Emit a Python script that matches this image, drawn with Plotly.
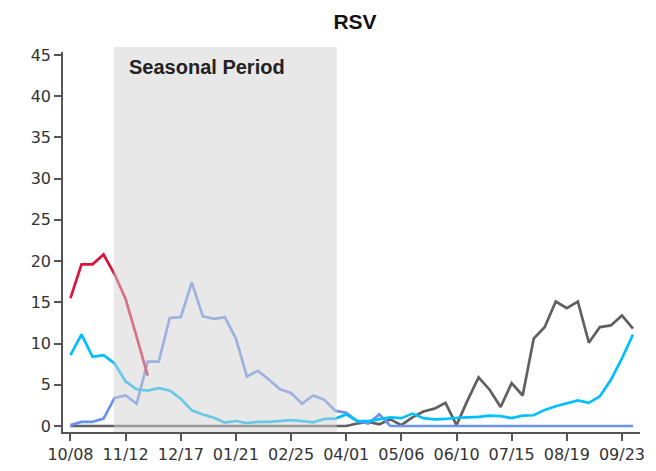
import pandas as pd
import plotly.graph_objects as go

weeks = pd.date_range("2022-10-08", periods=52, freq="7D")

gray_vals = [0, 0, 0, 0, 0, 0, 0, 0, 0, 0, 0, 0, 0, 0, 0, 0, 0, 0, 0, 0,
             0, 0, 0, 0, 0, 0, 0.3, 0.5, 0.2, 0.8, 0.1, 1.05, 1.75, 2.1, 2.8, 0.1,
             3.1, 5.9, 4.4, 2.3, 5.2, 3.7, 10.6, 12.0, 15.1, 14.3, 15.1, 10.1, 12.0, 12.2,
             13.4, 11.8]
blue_vals = [0.1, 0.5, 0.5, 0.9, 3.4, 3.7, 2.7, 7.8, 7.8, 13.1, 13.2, 17.4, 13.3, 13.0,
             13.2, 10.6, 6.0, 6.7, 5.6, 4.45, 4.0, 2.7, 3.7, 3.2, 1.85, 1.6, 0.6, 0.3, 1.4,
             0, 0, 0, 0, 0, 0, 0, 0, 0, 0, 0, 0, 0, 0, 0, 0, 0, 0, 0, 0, 0, 0, 0]
cyan_vals = [8.6, 11.1, 8.4, 8.6, 7.6, 5.4, 4.45, 4.3, 4.6, 4.3, 3.3, 1.9, 1.4, 1.0, 0.4,
             0.6, 0.35, 0.5, 0.5, 0.6, 0.7, 0.6, 0.45, 0.85, 0.9, 1.4, 0.6, 0.6, 0.8, 1.05,
             0.95, 1.5, 0.95, 0.8, 0.85, 1.0, 1.05, 1.1, 1.25, 1.2, 0.95, 1.25, 1.3, 1.95,
             2.4, 2.75, 3.1, 2.8, 3.6, 5.6, 8.2, 11.1]
red_vals = [15.5, 19.6, 19.6, 20.8, 18.4, 15.4, 10.8, 6.1]

season_start = "2022-11-04 12:00"
season_end = "2023-03-26"
y_ticks = [0, 5, 10, 15, 20, 25, 30, 35, 40, 45]

# page body has an 8px margin, so the figure is 8px smaller than the window
W, H = 648, 463

fig = go.Figure()
for vals, color in [(gray_vals, "#606060"), (blue_vals, "#6b92ee"),
                    (cyan_vals, "#00bfff"), (red_vals, "#dc143c")]:
    fig.add_trace(go.Scatter(
        x=weeks[:len(vals)],
        y=vals,
        mode="lines",
        line=dict(color=color, width=2.7),
        hoverinfo="skip"
    ))

# shaded seasonal window sits on top of the lines, half transparent
fig.add_shape(type="rect", xref="x", yref="paper",
              x0=season_start, x1=season_end, y0=0, y1=1.013,
              fillcolor="rgb(209,209,209)", opacity=0.5, line_width=0, layer="above")
fig.add_annotation(x="2022-11-13", y=0.9605, xref="x", yref="paper",
                   text="<b>Seasonal Period</b>", showarrow=False,
                   xanchor="left", yanchor="middle",
                   font=dict(family="Liberation Sans, Arial", size=20, color="#222"))

fig.update_layout(
    title={"text": "<b>RSV</b>", "x": 347 / W, "xanchor": "center",
           "y": 1 - 14 / H, "yanchor": "middle",
           "font": dict(family="Liberation Sans, Arial", size=21, color="#111")},
    width=W,
    height=H,
    showlegend=False,
    paper_bgcolor="white",
    plot_bgcolor="white",
    font=dict(family="DejaVu Sans", color="#333", size=16),
    margin=dict(l=55, r=16, t=44, b=39),
    xaxis=dict(
        range=["2022-10-03 06:00", "2023-10-04 11:00"],
        tick0="2022-10-08", dtick=35 * 86400000, tickformat="%m/%d",
        showgrid=False, zeroline=False, automargin=False,
        showline=True, linecolor="#555", linewidth=1.5,
        ticks="outside", ticklen=7, tickwidth=1.5, tickcolor="#555"
    ),
    yaxis=dict(
        range=[-0.73, 45.36],
        tickvals=y_ticks,
        showgrid=False, zeroline=False, automargin=False,
        showline=True, linecolor="#555", linewidth=1.5,
        ticks="outside", ticklen=7, tickwidth=1.5, tickcolor="#555"
    )
)

fig.write_html("out.html")
